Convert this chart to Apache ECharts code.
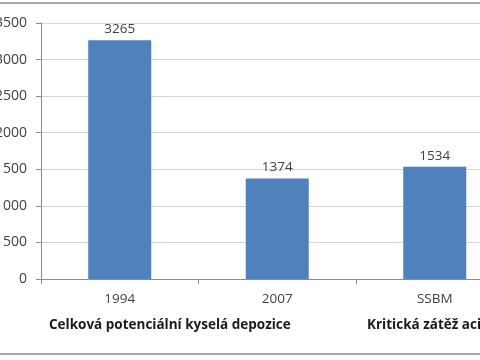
<!DOCTYPE html>
<html><head><meta charset="utf-8">
<script src="https://cdn.jsdelivr.net/npm/echarts@6/dist/echarts.min.js"></script>
<style>html,body{margin:0;padding:0;background:#fff;width:480px;height:360px;overflow:hidden;position:relative}
#c{position:absolute;left:-40px;top:0;width:600px;height:360px}</style>
</head><body><div id="c"></div>
<script>
const categories = ['1994', '2007', 'SSBM'];
const values = [3265, 1374, 1534];
const groupLabels = ['Celková potenciální kyselá depozice', 'Kritická zátěž acidity'];
const yMin = 0, yMax = 3500, yStep = 500;

const chart = echarts.init(document.getElementById('c'), null, {renderer: 'canvas'});
const font = 'Open Sans';
chart.setOption({
  animation: false,
  backgroundColor: '#fff',
  grid: {left: 81, top: 23, width: 472.5, height: 256, containLabel: false, outerBoundsMode: 'none'},
  xAxis: {
    type: 'category', data: categories,
    axisLine: {lineStyle: {color: '#8c8c8c'}},
    axisTick: {show: true, length: 5, lineStyle: {color: '#8c8c8c'}},
    axisLabel: {color: '#404040', fontFamily: font, fontSize: 13.5, margin: 13}
  },
  yAxis: {
    type: 'value', min: yMin, max: yMax, interval: yStep,
    axisLine: {show: true, lineStyle: {color: '#8c8c8c'}},
    axisTick: {show: true, length: 5, lineStyle: {color: '#8c8c8c'}},
    axisLabel: {color: '#404040', fontFamily: font, fontSize: 14, margin: 14, formatter: v => String(v)},
    splitLine: {lineStyle: {color: '#d4d4d4'}}
  },
  series: [{
    type: 'bar', data: values, barWidth: 63,
    itemStyle: {color: '#4f81bd'},
    label: {show: true, position: 'top', distance: 4, color: '#404040', fontFamily: font, fontSize: 13.5}
  }],
  graphic: [
    {type: 'rect', shape: {x: 0, y: 3, width: 600, height: 351}, style: {fill: 'none', stroke: '#8c8c8c', lineWidth: 1.5}, silent: true},
    {type: 'text', left: 89, top: 318, style: {text: groupLabels[0], fill: '#1a1a1a', font: 'bold 13.5px "Open Sans"'}},
    {type: 'text', left: 407, top: 318, style: {text: groupLabels[1], fill: '#1a1a1a', font: 'bold 13.5px "Open Sans"'}}
  ]
});
</script></body></html>
